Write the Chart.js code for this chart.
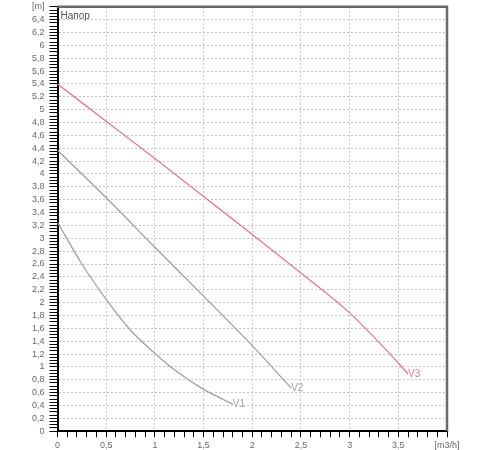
<!DOCTYPE html>
<html>
<head>
<meta charset="utf-8">
<script src="https://cdn.jsdelivr.net/npm/chart.js@4.4.0/dist/chart.umd.min.js"></script>
<style>
html, body { margin: 0; padding: 0; background: #fff; }
#wrap { width: 500px; height: 450px; }
</style>
</head>
<body>
<div id="wrap"><canvas id="pumpChart"></canvas></div>
<script>
// pump curves, flow [m3/h] vs head [m]
const flowV1 = [0, 0.25, 0.5, 0.75, 1, 1.25, 1.5, 1.8];
const headV1 = [3.25, 2.60, 2.05, 1.57, 1.21, 0.90, 0.65, 0.42];
const flowV2 = [0, 0.5, 1, 1.5, 2, 2.4];
const headV2 = [4.37, 3.63, 2.86, 2.10, 1.33, 0.67];
const flowV3 = [0, 0.5, 1, 1.5, 2, 2.5, 3, 3.5, 3.6];
const headV3 = [5.40, 4.82, 4.24, 3.65, 3.06, 2.46, 1.84, 1.06, 0.89];
const seriesNames = ['V1', 'V2', 'V3'];
const seriesColors = ['#a0a0a0', '#a0a0a0', '#dc7f88'];

const xMax = 4, yMax = 6.6;
const xUnit = '[m3/h]', yUnit = '[m]';
const headTitle = 'Напор';

// minor ticks every 0.1 on x, 0.05 on y
var xTickValues = [], yTickValues = [];
for (var i = 0; i <= 40; i++) xTickValues.push(i / 10);
for (var j = 0; j <= 132; j++) yTickValues.push(j / 20);

const isStep = (v, step) => Math.abs(v / step - Math.round(v / step)) < 1e-6;
const fmt = v => String(Math.round(v * 100) / 100).replace('.', ',');

const toPoints = (xs, ys) => xs.map((x, k) => ({ x: x, y: ys[k] }));

const extras = {
    id: 'extras',
    afterDatasetsDraw(chart) {
        const { ctx, chartArea: a } = chart;
        ctx.save();
        ctx.strokeStyle = '#6a6a6a';
        ctx.lineWidth = 2.5;
        ctx.beginPath();
        ctx.moveTo(a.left, a.top);
        ctx.lineTo(a.right, a.top);
        ctx.lineTo(a.right, a.bottom);
        ctx.stroke();

        ctx.font = '10px "Liberation Sans", Arial, sans-serif';
        ctx.fillStyle = '#555';
        ctx.textBaseline = 'top';
        ctx.fillText(headTitle, a.left + 3, a.top + 4);

        ctx.textBaseline = 'middle';
        chart.data.datasets.forEach((ds, i) => {
            const pts = chart.getDatasetMeta(i).data;
            const last = pts[pts.length - 1];
            ctx.fillStyle = ds.borderColor;
            ctx.fillText(ds.label, last.x, last.y);
        });
        ctx.restore();
    }
};

const tickFont = { family: '"Liberation Sans", Arial, sans-serif', size: 9 };

new Chart('pumpChart', {
    type: 'line',
    data: {
        datasets: [
            { label: seriesNames[0], data: toPoints(flowV1, headV1), borderColor: seriesColors[0], tension: 0.3 },
            { label: seriesNames[1], data: toPoints(flowV2, headV2), borderColor: seriesColors[1], cubicInterpolationMode: 'monotone' },
            { label: seriesNames[2], data: toPoints(flowV3, headV3), borderColor: seriesColors[2], cubicInterpolationMode: 'monotone' }
        ]
    },
    options: {
        responsive: true,
        maintainAspectRatio: false,
        animation: false,
        layout: { padding: { left: 27, right: 53, top: 6, bottom: -4 } },
        elements: {
            point: { radius: 0 },
            line: { borderWidth: 1.3, fill: false }
        },
        plugins: { legend: { display: false }, tooltip: { enabled: false } },
        scales: {
            x: {
                type: 'linear', min: 0, max: xMax,
                afterBuildTicks: s => { s.ticks = xTickValues.map(v => ({ value: v })); },
                ticks: {
                    autoSkip: false, maxRotation: 0, padding: 3, color: '#666', font: tickFont,
                    callback: v => isStep(v, xMax) && v > 0 ? xUnit : (isStep(v, 0.5) ? fmt(v) : '')
                },
                grid: {
                    color: c => isStep(c.tick.value, 0.5) ? '#c4c4c4' : 'rgba(0,0,0,0)',
                    tickColor: '#000', tickLength: 6, tickWidth: 1
                },
                border: { color: '#000', width: 2, dash: [2, 2] }
            },
            y: {
                type: 'linear', min: 0, max: yMax,
                afterBuildTicks: s => { s.ticks = yTickValues.map(v => ({ value: v })); },
                ticks: {
                    autoSkip: false, padding: 5, color: '#666',
                    font: { family: tickFont.family, size: 9, lineHeight: 0.4 },
                    callback: v => Math.abs(v - yMax) < 1e-6 ? yUnit : (isStep(v, 0.2) ? fmt(v) : '')
                },
                grid: {
                    color: c => isStep(c.tick.value, 0.2) ? '#c4c4c4' : 'rgba(0,0,0,0)',
                    tickColor: '#000', tickLength: 8, tickWidth: 1
                },
                border: { color: '#000', width: 2, dash: [2, 2] }
            }
        }
    },
    plugins: [extras]
});
</script>
</body>
</html>
